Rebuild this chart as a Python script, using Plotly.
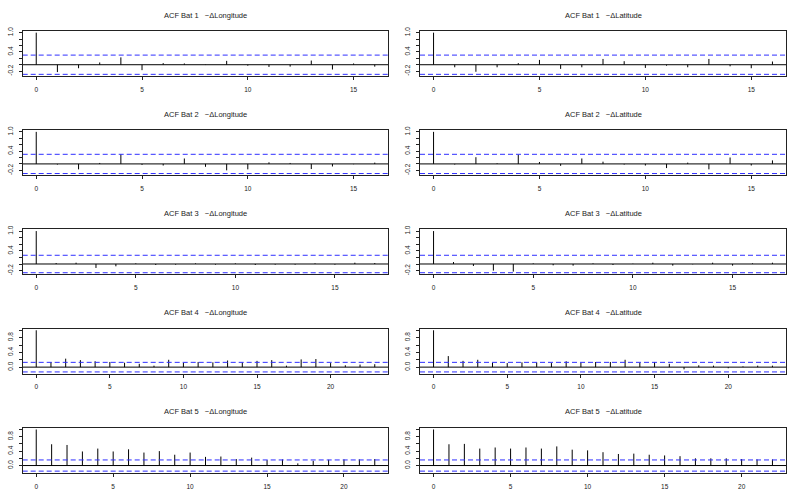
import plotly.graph_objects as go

W, H = 793, 496

# ---- data (ACF values, lag 0 .. lag.max) ----
acf_bat1_lon = [1.0, -0.23, -0.11, 0.07, 0.23, -0.17, 0.05, 0.04, -0.01, 0.12, -0.03,
                -0.07, -0.06, 0.13, -0.15, 0.04, -0.06]
acf_bat1_lat = [1.0, -0.08, -0.22, -0.08, 0.05, 0.15, -0.13, -0.08, 0.18, 0.11, -0.10,
                -0.03, -0.08, 0.18, -0.05, -0.11, 0.10]
acf_bat2_lon = [1.0, -0.02, -0.17, 0.03, 0.30, -0.03, -0.05, 0.17, -0.09, -0.20, -0.17,
                0.05, 0.03, -0.16, -0.08, -0.01, 0.04]
acf_bat2_lat = [1.0, -0.02, 0.21, 0.02, 0.29, 0.06, -0.06, 0.17, 0.07, -0.02, -0.05,
                -0.13, 0.04, -0.17, 0.20, -0.05, 0.11]
acf_bat3_lon = [1.0, 0.03, 0.04, -0.12, -0.07, 0.02, -0.03, -0.02, 0.02, -0.02, 0.02,
                -0.03, -0.02, -0.02, 0.02, -0.02, 0.04, 0.03]
acf_bat3_lat = [1.0, 0.06, -0.06, -0.20, -0.23, 0.02, -0.04, -0.05, 0.02, -0.03, 0.01,
                0.04, -0.05, -0.01, 0.04, -0.05, 0.02, 0.04]
acf_bat4_lon = [1.0, 0.14, 0.23, 0.19, 0.16, 0.14, 0.12, 0.09, 0.04, 0.20, 0.12, 0.14,
                0.13, 0.18, 0.13, 0.17, 0.19, 0.04, 0.21, 0.22, 0.11, 0.05, 0.07, 0.08]
acf_bat4_lat = [1.0, 0.30, 0.17, 0.20, 0.12, 0.11, 0.13, 0.13, 0.11, 0.16, 0.12, 0.14,
                0.14, 0.20, 0.12, 0.14, 0.09, -0.06, 0.05, 0.04, -0.03, 0.02, 0.04, 0.04]
acf_bat5_lon = [1.0, 0.59, 0.57, 0.39, 0.47, 0.39, 0.45, 0.36, 0.40, 0.30, 0.36, 0.24,
                0.25, 0.18, 0.22, 0.15, 0.17, 0.06, 0.13, 0.16, 0.17, 0.17, 0.18]
acf_bat5_lat = [1.0, 0.59, 0.60, 0.47, 0.50, 0.47, 0.50, 0.47, 0.53, 0.44, 0.42, 0.37,
                0.32, 0.33, 0.30, 0.28, 0.26, 0.20, 0.20, 0.20, 0.18, 0.17, 0.17]

ci_bat = [0.30, 0.30, 0.265, 0.13, 0.155]          # ±1.96/sqrt(n) bounds per bat
bat_ids = [1, 2, 3, 4, 5]
var_names = ["ΔLongitude", "ΔLatitude"]
y_ticks_small = [-0.2, 0.0, 0.2, 0.4, 0.6, 0.8, 1.0]
y_labels_small = ["-0.2", "", "", "0.4", "", "", "1.0"]
y_ticks_big = [0.0, 0.2, 0.4, 0.6, 0.8, 1.0]
y_labels_big = ["0.0", "", "0.4", "", "0.8", ""]
x_ticks = [0, 5, 10, 15, 20]

panels = [
    [acf_bat1_lon, acf_bat1_lat],
    [acf_bat2_lon, acf_bat2_lat],
    [acf_bat3_lon, acf_bat3_lat],
    [acf_bat4_lon, acf_bat4_lat],
    [acf_bat5_lon, acf_bat5_lat],
]

# ---- layout geometry (pixels) ----
col_px = [(22.7, 388.3), (420.0, 786.0)]
row_top0, row_h, row_step = 31.0, 45.0, 99.2

FONT = "Liberation Sans, Arial, Helvetica, sans-serif"
AX = "#222222"
BLUE = "#2f2fff"

fig = go.Figure()
layout = dict(
    width=W, height=H, margin=dict(l=0, r=0, t=0, b=0, autoexpand=False),
    paper_bgcolor="white", plot_bgcolor="white", showlegend=False,
    font=dict(family=FONT, color="#111111"),
    annotations=[],
)

for r in range(5):
    top = row_top0 + row_step * r
    bot = top + row_h
    for c in range(2):
        k = r * 2 + c + 1
        vals = panels[r][c]
        L = len(vals) - 1
        ci = ci_bat[r]
        lo = min(min(vals), -ci)
        hi = max(max(vals), ci)
        span = hi - lo
        yr = [lo - 0.04 * span, hi + 0.04 * span]
        xr = [-0.04 * L, 1.04 * L]
        xn = "x" if k == 1 else f"x{k}"
        yn = "y" if k == 1 else f"y{k}"

        xs, ys = [], []
        for lag, v in enumerate(vals):
            xs += [lag, lag, None]
            ys += [0, v, None]

        # zero line
        fig.add_trace(go.Scatter(x=xr, y=[0, 0], mode="lines", xaxis=xn, yaxis=yn,
                                 line=dict(color="black", width=1), hoverinfo="skip"))
        # acf spikes
        fig.add_trace(go.Scatter(x=xs, y=ys, mode="lines", xaxis=xn, yaxis=yn,
                                 line=dict(color="black", width=1), hoverinfo="skip"))
        # confidence bounds
        for s in (1, -1):
            fig.add_trace(go.Scatter(x=xr, y=[s * ci, s * ci], mode="lines", xaxis=xn, yaxis=yn,
                                     line=dict(color=BLUE, width=1, dash="5px,3px"),
                                     hoverinfo="skip"))

        x0, x1 = col_px[c]
        if r < 3:
            tv, tt = y_ticks_small, y_labels_small
        else:
            tv, tt = y_ticks_big, y_labels_big
        layout["xaxis" if k == 1 else f"xaxis{k}"] = dict(
            domain=[x0 / W, x1 / W], range=xr, anchor=yn, automargin=False,
            showline=True, mirror=True, linecolor=AX, linewidth=1,
            ticks="outside", ticklen=3, tickwidth=1, tickcolor=AX,
            tickvals=[t for t in x_ticks if t <= L], ticktext=[str(t) for t in x_ticks if t <= L],
            tickfont=dict(size=6.5, family=FONT, color="#222"),
            ticklabelstandoff=4,
            showgrid=False, zeroline=False, fixedrange=True,
        )
        layout["yaxis" if k == 1 else f"yaxis{k}"] = dict(
            domain=[1 - bot / H, 1 - top / H], range=yr, anchor=xn, automargin=False,
            showline=True, mirror=True, linecolor=AX, linewidth=1,
            ticks="outside", ticklen=3, tickwidth=1, tickcolor=AX,
            tickvals=tv, ticktext=tt, tickangle=-90,
            tickfont=dict(size=6.5, family=FONT, color="#222"),
            ticklabelstandoff=3,
            showgrid=False, zeroline=False, fixedrange=True,
        )
        layout["annotations"].append(dict(
            text=f"ACF Bat {bat_ids[r]}   −{var_names[c]}",
            xref="paper", yref="paper",
            x=(x0 + x1) / 2 / W, y=1 - (top - 16) / H,
            xanchor="center", yanchor="middle", showarrow=False,
            font=dict(size=7.5, family=FONT, color="#222"),
        ))

fig.update_layout(**layout)
fig.write_html("out.html", config={"displayModeBar": False},
               post_script="document.body.style.margin='0';")
